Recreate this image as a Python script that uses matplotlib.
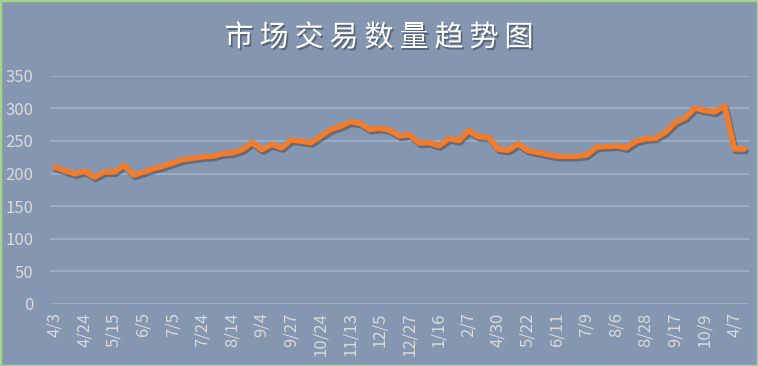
import matplotlib
matplotlib.use("Agg")
import matplotlib.pyplot as plt
import matplotlib.patheffects as pe
from matplotlib.patches import Rectangle

plt.rcParams['font.family'] = ['Noto Sans CJK SC', 'DejaVu Sans']

# trading volume, one value per date (labels shown on every 3rd point)
values = [210, 205, 200, 204, 195, 203, 203, 213, 198, 203,
          208, 212, 217, 222, 224, 226, 227, 231, 232, 237,
          248, 237, 245, 240, 252, 250, 248, 258, 268, 273,
          280, 277, 268, 270, 267, 258, 260, 247, 248, 243,
          254, 251, 266, 257, 256, 238, 236, 246, 236, 233,
          230, 227, 227, 227, 229, 241, 242, 243, 240, 250,
          254, 255, 264, 279, 286, 301, 297, 295, 304, 238,
          238]
tick_labels = ["4/3", "4/24", "5/15", "6/5", "7/5", "7/24", "8/14", "9/4",
               "9/27", "10/24", "11/13", "12/5", "12/27", "1/16", "2/7", "4/30",
               "5/22", "6/11", "7/9", "8/6", "8/28", "9/17", "10/9", "4/7"]
title = "市场交易数量趋势图"

bg = "#8496B0"
W, H = 758, 366
fig = plt.figure(figsize=(W / 100, H / 100), dpi=100, facecolor=bg)
ax = fig.add_axes([50 / W, 62 / H, 699 / W, 228.3 / H], facecolor=bg)

x = list(range(len(values)))
ax.plot(x, values, color="#ED7D31", lw=4.3, solid_joinstyle="round", solid_capstyle="round",
        path_effects=[pe.SimpleLineShadow(offset=(1.2, -1.8), shadow_color="#2F3B4F", alpha=0.45),
                      pe.Normal()], zorder=3)

ax.set_xlim(-0.5, len(values) - 0.5)
ax.set_ylim(0, 350)
ax.set_yticks(range(0, 351, 50))
ax.set_xticks(range(0, len(values), 3))
ax.set_xticklabels(tick_labels, rotation=90)
ax.tick_params(axis="both", length=0, colors="#D9D9D9", labelsize=12)
ax.tick_params(axis="y", pad=12)
ax.tick_params(axis="x", pad=6)
ax.grid(axis="y", color="#9AABC4", lw=1.5)
ax.set_axisbelow(True)
for s in ax.spines.values():
    s.set_visible(False)

# title drawn char by char to get the wide letter spacing
step = 35
x0 = W / 2 - step * (len(title) - 1) / 2
for i, ch in enumerate(title):
    fig.text((x0 + i * step) / W, 1 - 38 / H, ch, ha="center", va="center", fontsize=21,
             color="white",
             path_effects=[pe.withSimplePatchShadow(offset=(1.2, -1.5), shadow_rgbFace="#3A4658", alpha=0.6)])

fig.patches.append(Rectangle((0, 0), 1, 1, transform=fig.transFigure, fill=False,
                             edgecolor="#A9D18E", lw=2.5))

fig.savefig("out.png", dpi=100, facecolor=bg)
